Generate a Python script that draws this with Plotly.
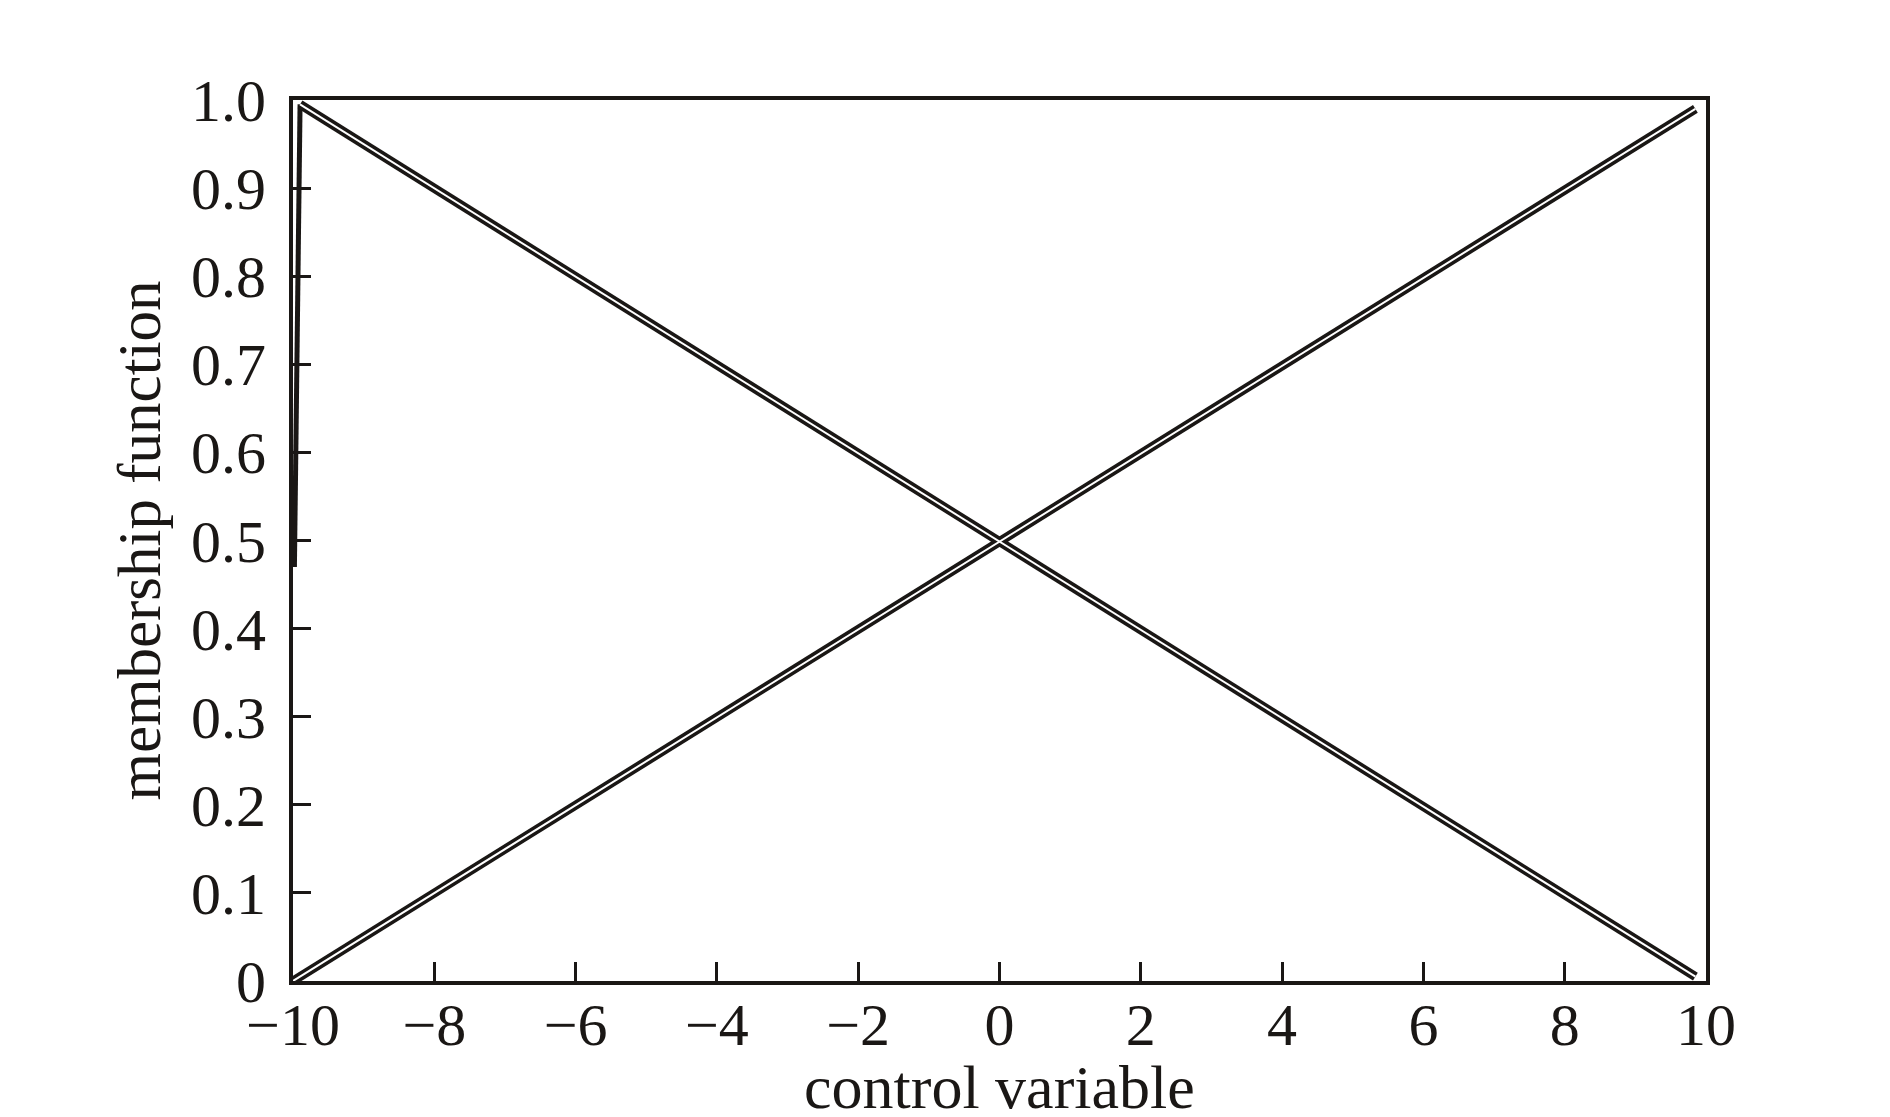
import plotly.graph_objects as go

# Data
dec_x = [-9.98, -9.9, 9.85]
dec_y = [0.47, 0.995, 0.005]
inc_x = [-10.0, 9.85]
inc_y = [0.0, 0.99]

x_ticks = [-10, -8, -6, -4, -2, 0, 2, 4, 6, 8, 10]
x_labels = ["\u221210", "\u22128", "\u22126", "\u22124", "\u22122", "0", "2", "4", "6", "8", "10"]
y_ticks = [0, 0.1, 0.2, 0.3, 0.4, 0.5, 0.6, 0.7, 0.8, 0.9, 1.0]
y_labels = ["0", "0.1", "0.2", "0.3", "0.4", "0.5", "0.6", "0.7", "0.8", "0.9", "1.0"]

INK = "#1a1715"
FONT = "Liberation Serif"

fig = go.Figure()
# steep rising edge at the left (single stroke)
fig.add_trace(go.Scatter(x=dec_x[:2], y=dec_y[:2], mode="lines",
                         line=dict(color=INK, width=5), hoverinfo="skip"))
# double-stroke lines: dark outer, white core
fig.add_trace(go.Scatter(x=dec_x[1:], y=dec_y[1:], mode="lines",
                         line=dict(color=INK, width=9), hoverinfo="skip"))
fig.add_trace(go.Scatter(x=inc_x, y=inc_y, mode="lines",
                         line=dict(color=INK, width=9), hoverinfo="skip"))
fig.add_trace(go.Scatter(x=dec_x[1:], y=dec_y[1:], mode="lines",
                         line=dict(color="white", width=2), hoverinfo="skip"))
fig.add_trace(go.Scatter(x=inc_x, y=inc_y, mode="lines",
                         line=dict(color="white", width=2), hoverinfo="skip"))

fig.update_layout(
    width=1890, height=1117,
    margin=dict(l=285, r=192, t=92, b=144),
    plot_bgcolor="white", paper_bgcolor="white",
    showlegend=False,
    font=dict(family=FONT, color=INK, size=60),
)
fig.update_xaxes(
    range=[-10, 10], tickvals=x_ticks, ticktext=x_labels,
    showline=True, linecolor=INK, linewidth=4, mirror=True,
    ticks="inside", ticklen=19, tickwidth=3, tickcolor=INK,
    showgrid=False, zeroline=False, ticklabelstandoff=-12,
    tickfont=dict(family=FONT, size=60, color=INK),
)
fig.update_yaxes(
    range=[0, 1], tickvals=y_ticks, ticktext=y_labels,
    showline=True, linecolor=INK, linewidth=4, mirror=True,
    ticks="inside", ticklen=18, tickwidth=3, tickcolor=INK,
    showgrid=False, zeroline=False, ticklabelstandoff=11,
    tickfont=dict(family=FONT, size=60, color=INK),
)
fig.add_annotation(text="control variable", xref="paper", yref="paper",
                   x=0.5, y=0, xanchor="center", yanchor="top", yshift=-70,
                   showarrow=False, font=dict(family=FONT, size=62, color=INK))
fig.add_annotation(text="membership function", xref="paper", yref="paper",
                   x=0, y=0.5, xanchor="center", yanchor="middle", xshift=-154,
                   textangle=-90, showarrow=False,
                   font=dict(family=FONT, size=61, color=INK))

fig.write_html("out.html")
